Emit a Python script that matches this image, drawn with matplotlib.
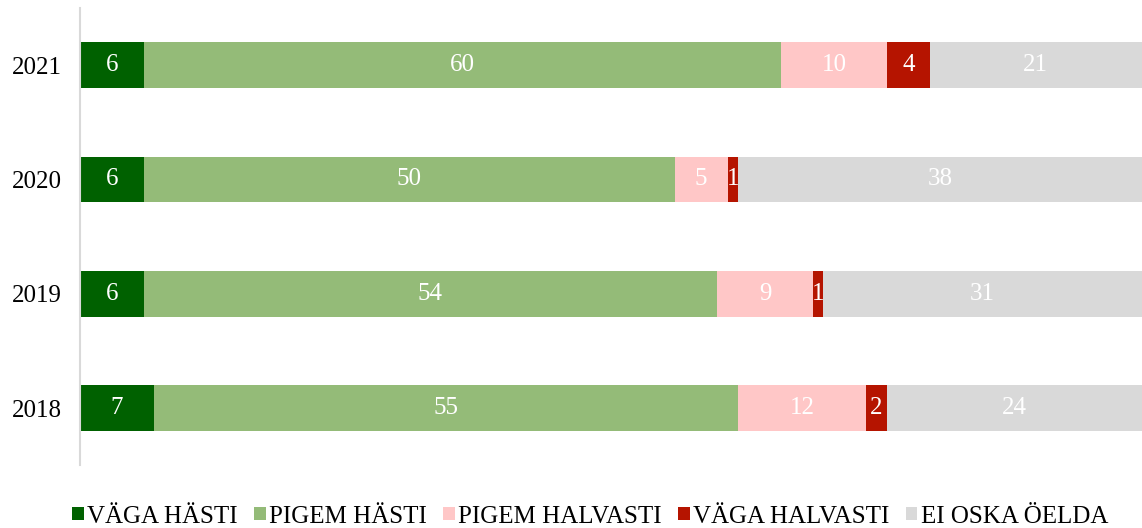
import matplotlib.pyplot as plt
import numpy as np

plt.rcParams['font.family'] = ['Liberation Serif', 'DejaVu Serif']

years = ['2018', '2019', '2020', '2021']
series = ['VÄGA HÄSTI', 'PIGEM HÄSTI', 'PIGEM HALVASTI', 'VÄGA HALVASTI', 'EI OSKA ÖELDA']
vaga_hasti = [7, 6, 6, 6]
pigem_hasti = [55, 54, 50, 60]
pigem_halvasti = [12, 9, 5, 10]
vaga_halvasti = [2, 1, 1, 4]
ei_oska = [24, 31, 38, 21]
colors = ['#006100', '#94BB78', '#FFC7C7', '#B51400', '#D9D9D9']

data = [vaga_hasti, pigem_hasti, pigem_halvasti, vaga_halvasti, ei_oska]

fig = plt.figure(figsize=(11.42, 5.28), dpi=100)
ax = fig.add_axes([0.070, 0.119, 0.930, 0.866])

y = np.arange(len(years))
left = np.zeros(len(years))
for name, vals, c in zip(series, data, colors):
    bars = ax.barh(y, vals, left=left, height=0.4, color=c, label=name)
    ax.bar_label(bars, labels=[str(v) for v in vals], label_type='center',
                 color='white', fontsize=18)
    left += np.array(vals)

ax.set_xlim(0, 100)
ax.set_ylim(-0.5, 3.5)
ax.set_yticks(y)
ax.set_yticklabels(years, fontsize=18)
ax.tick_params(axis='y', length=0, pad=13)
ax.set_xticks([])
for s in ['top', 'right', 'bottom']:
    ax.spines[s].set_visible(False)
ax.spines['left'].set_color('#D9D9D9')
ax.spines['left'].set_linewidth(1.5)

fig.legend(loc='lower center', bbox_to_anchor=(0.517, -0.042), ncol=5, frameon=False,
           fontsize=18, handlelength=0.45, handleheight=0.45, handletextpad=0.15,
           columnspacing=0.65)

fig.savefig('out.png', dpi=100)
